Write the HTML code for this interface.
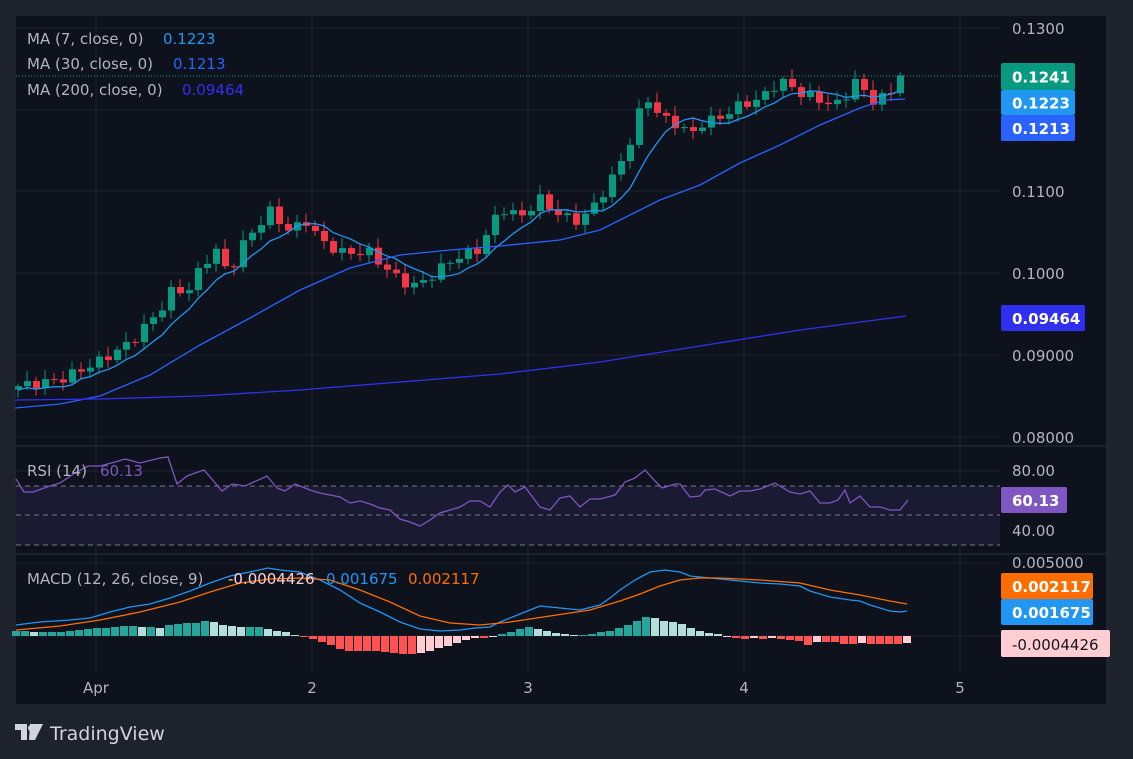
<!DOCTYPE html>
<html><head><meta charset="utf-8"><style>
body{margin:0;background:#1e222d;width:1133px;height:759px;overflow:hidden;font-family:"DejaVu Sans","Liberation Sans",sans-serif}
svg{position:absolute;left:0;top:0}
</style></head><body>
<svg id="s" width="1133" height="759" xmlns="http://www.w3.org/2000/svg"></svg>
<script>
const S=document.getElementById('s');let h='';
h+='<rect x="15" y="15" width="1092" height="690" fill="#0d121d" stroke="#2a2e39"/>';
[96,312,528,744,960].forEach(x=>h+=`<line x1="${x}" y1="16" x2="${x}" y2="672" stroke="#1c2230"/>`);
[28,110,191,273,355,437,471,530,563,636].forEach(y=>h+=`<line x1="16" y1="${y}" x2="1000" y2="${y}" stroke="#1c2230"/>`);
h+='<line x1="16" y1="446" x2="1107" y2="446" stroke="#2a2e39"/><line x1="16" y1="554" x2="1107" y2="554" stroke="#2a2e39"/>';
h+='<rect x="16" y="486" width="984" height="59" fill="#1b1a33"/>';
[486,515,545].forEach(y=>h+=`<line x1="16" y1="${y}" x2="1000" y2="${y}" stroke="#787b86" stroke-dasharray="5,4"/>`);
const Y=p=>273-(p-0.1)*8200;
const kp=[[18,.0862],[60,.087],[100,.0893],[130,.0915],[160,.0955],[175,.0985],[185,.0972],[200,.1005],[215,.103],[228,.0998],[245,.104],[270,.1075],[290,.105],[305,.1065],[320,.104],[340,.1025],[370,.1025],[390,.1],[412,.0983],[430,.0995],[450,.1015],[480,.103],[500,.108],[520,.1068],[540,.109],[560,.107],[580,.1063],[592,.108],[610,.111],[630,.116],[645,.1218],[660,.119],[680,.118],[690,.1167],[700,.1182],[720,.119],[740,.1205],[760,.1212],[780,.1235],[800,.122],[820,.121],[840,.1205],[855,.1235],[870,.121],[890,.1218],[905,.1241]];
function interp(x){for(let i=0;i<kp.length-1;i++){if(x<=kp[i+1][0]){const t=(x-kp[i][0])/(kp[i+1][0]-kp[i][0]);return kp[i][1]+t*(kp[i+1][1]-kp[i][1]);}}return kp[kp.length-1][1];}
let xs=[],cl=[];for(let x=18;x<=906;x+=9){xs.push(x);}
xs.forEach((x,i)=>cl.push(interp(x)+Math.sin(i*2.3)*0.0006));
cl[cl.length-1]=.1241;
let prev=.0858;
xs.forEach((x,i)=>{const o=prev,c=cl[i];const up=c>=o;const col=up?'#089981':'#f23645';
const hi=Math.max(o,c)+0.0003+Math.abs(Math.sin(i*1.7))*0.0009,lo=Math.min(o,c)-0.0003-Math.abs(Math.cos(i*1.3))*0.0007;
h+=`<line x1="${x}" y1="${Y(hi)}" x2="${x}" y2="${Y(lo)}" stroke="${col}"/>`;
const t=Y(Math.max(o,c)),b=Y(Math.min(o,c));h+=`<rect x="${x-3}" y="${t}" width="7" height="${Math.max(1,b-t)}" fill="${col}"/>`;prev=c;});
let m7=[];xs.forEach((x,i)=>{let s=0,n=0;for(let j=Math.max(0,i-6);j<=i;j++){s+=cl[j];n++;}m7.push(x+','+(Y(s/n)+(i<7?4:0)));});
h+=`<polyline points="${m7.join(' ')}" fill="none" stroke="#2196f3" stroke-width="1.3"/>`;
h+='<polyline points="15,408 60,404 100,396 150,375 200,345 250,318 300,290 350,268 400,255 450,250 500,246 560,240 600,230 630,215 660,200 700,185 740,163 780,145 820,125 860,108 885,100 905,99" fill="none" stroke="#2962ff" stroke-width="1.3"/>';
h+='<polyline points="15,400 100,399 200,396 300,390 400,382 500,374 600,362 700,346 800,330 906,316" fill="none" stroke="#3030f0" stroke-width="1.3"/>';
h+='<line x1="16" y1="76" x2="1000" y2="76" stroke="#089981" stroke-dasharray="1,2"/>';
h+='<polyline points="16,479 24,492 33,492 50,486 60,483 75,473 88,466 100,466 115,462 125,459 140,463 160,458 168,457 177,484 187,476 204,470 222,491 232,484 245,486 267,476 277,488 285,491 295,484 310,490 320,493 340,497 350,503 360,501 370,504 380,508 390,510 400,519 410,522 420,526 430,520 440,513 450,510 460,507 470,501 480,501 490,507 500,492 508,485 515,492 525,487 540,507 550,510 560,498 570,496 580,507 590,499 600,499 615,495 625,482 635,478 645,470 655,481 662,488 675,484 680,484 690,497 700,496 705,490 715,489 730,496 740,491 750,491 760,489 775,483 790,492 800,494 810,491 820,503 830,503 838,500 845,490 850,503 860,496 870,507 880,507 890,510 900,510 908,500" fill="none" stroke="#7e57c2" stroke-width="1.3"/>';
const hv=[[16,5],[25,5],[34,4],[43,4],[52,4],[61,4],[70,5],[79,6],[88,7],[97,8],[106,8],[115,9],[124,10],[133,10],[142,9],[151,9],[160,8],[169,11],[178,12],[187,13],[196,13],[205,15],[214,14],[223,11],[232,10],[241,9],[250,9],[259,9],[268,7],[277,5],[286,4],[295,1],[304,-1],[313,-3],[322,-6],[331,-9],[340,-13],[349,-15],[358,-15],[367,-15],[376,-15],[385,-16],[394,-17],[403,-18],[412,-18],[421,-17],[430,-15],[439,-12],[448,-10],[457,-7],[466,-4],[475,-2],[484,-2],[493,-1],[502,2],[511,4],[520,7],[529,9],[538,7],[547,5],[556,3],[565,2],[574,1],[583,1],[592,2],[601,4],[610,5],[619,8],[628,11],[637,15],[646,19],[655,18],[664,15],[673,14],[682,12],[691,8],[700,5],[709,3],[718,2],[727,-1],[736,-2],[745,-3],[754,-2],[763,-3],[772,-2],[781,-3],[790,-4],[799,-5],[808,-9],[817,-6],[826,-6],[835,-6],[844,-8],[853,-8],[862,-7],[871,-8],[880,-8],[889,-8],[898,-8],[907,-7]];
let pv=0;hv.forEach(([x,v])=>{const up=v>=0;const grow=Math.abs(v)>=Math.abs(pv);const c=up?(grow?'#26a69a':'#b2dfdb'):(grow?'#ff5252':'#ffcdd2');pv=v;
h+=`<rect x="${x-4}" y="${up?636-v:636}" width="8" height="${Math.max(1,Math.abs(v))}" fill="${c}"/>`;});
h+='<polyline points="16,625 40,622 70,620 90,618 110,612 130,607 150,604 170,598 190,591 210,583 230,576 250,572 268,568 280,570 300,572 320,580 340,590 360,603 380,612 400,622 420,629 440,631 460,630 475,628 490,627 500,622 520,614 540,606 560,608 580,610 600,605 610,598 620,590 635,580 650,572 665,570 680,572 690,576 700,577 720,579 740,581 760,583 780,584 800,586 810,591 830,597 850,600 860,601 870,605 890,611 900,612 907,611" fill="none" stroke="#2196f3" stroke-width="1.3"/>';
h+='<polyline points="16,630 60,626 100,620 140,612 180,602 210,592 240,583 270,579 300,578 330,580 360,590 390,602 420,616 450,623 480,625 510,622 550,616 590,610 620,601 640,594 660,586 680,580 700,578 720,578 760,580 800,583 830,590 860,595 890,601 907,604" fill="none" stroke="#ff6d00" stroke-width="1.3"/>';
const T=(x,y,s,c,fs=14,w='normal',a='start')=>h+=`<text x="${x}" y="${y}" fill="${c}" font-size="${fs}" font-weight="${w}" text-anchor="${a}">${s}</text>`;
T(27,44,'MA (7, close, 0)','#b2b5be',15);T(163,44,'0.1223','#2196f3',15);
T(27,69,'MA (30, close, 0)','#b2b5be',15);T(173,69,'0.1213','#2962ff',15);
T(27,95,'MA (200, close, 0)','#b2b5be',15);T(182,95,'0.09464','#3030f0',15);
T(27,476,'RSI (14)','#b2b5be',15);T(100,476,'60.13','#7e57c2',15);
T(27,584,'MACD (12, 26, close, 9)','#b2b5be',15);T(228,584,'-0.0004426','#ffcdd2',15);T(326,584,'0.001675','#2196f3',15);T(408,584,'0.002117','#ff6d00',15);
[[28,'0.1300'],[197,'0.1100'],[279,'0.1000'],[361,'0.09000'],[443,'0.08000'],[476,'80.00'],[536,'40.00'],[568,'0.005000']].forEach(([y,s])=>T(1012,y+(y<100?6:0),s,'#b2b5be',15));
const B=(y,hh,bg,s,fc='#fff',w=74)=>{h+=`<rect x="1001" y="${y}" width="${w}" height="${hh}" fill="${bg}" rx="2"/>`;T(1012,y+hh/2+6,s,fc,15,'bold');};
B(63,27,'#089981','0.1241');B(90,25,'#2196f3','0.1223');B(115,26,'#2962ff','0.1213');B(305,26,'#2f2ff0','0.09464',undefined,84);
B(487,26,'#7e57c2','60.13',undefined,66);B(573,26,'#ff6d00','0.002117',undefined,92);B(599,26,'#2196f3','0.001675',undefined,92);
h+='<rect x="1001" y="630" width="109" height="27" fill="#ffcdd2" rx="2"/>';T(1012,650,'-0.0004426','#131722',15);
T(96,693,'Apr','#b2b5be',15,'normal','middle');T(312,693,'2','#b2b5be',15,'normal','middle');T(528,693,'3','#b2b5be',15,'normal','middle');T(744,693,'4','#b2b5be',15,'normal','middle');T(960,693,'5','#b2b5be',15,'normal','middle');
h+='<path d="M15,724 h12 v16 h-6 v-10 h-6z M30,724 h13 l-8,16 h-6z" fill="#d1d4dc"/><circle cx="31" cy="728" r="3" fill="#d1d4dc"/>';
T(50,740,'TradingView','#d1d4dc',19,'normal');
S.innerHTML=h;
</script>
</body></html>
